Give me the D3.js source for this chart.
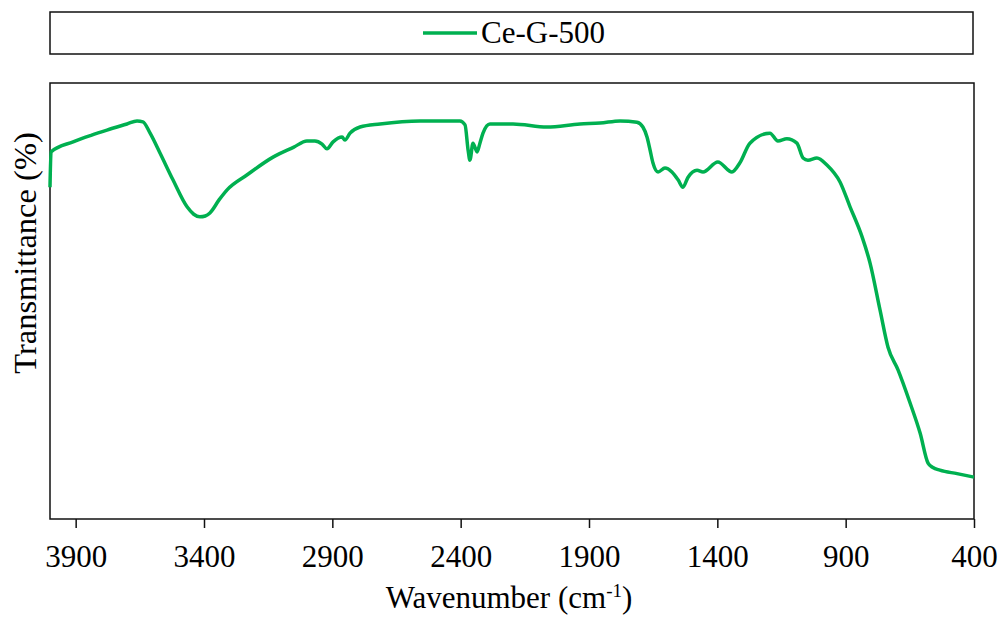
<!DOCTYPE html>
<html>
<head>
<meta charset="utf-8">
<script src="https://cdn.jsdelivr.net/npm/d3@7"></script>
<style>
  body { margin: 0; background: #fff; }
</style>
</head>
<body>
<div id="chart"></div>
<script>
// FTIR spectrum
const seriesName = "Ce-G-500";
const wavenumber = [4000, 3996, 3910, 3840, 3778, 3700, 3661, 3638, 3610, 3571, 3521, 3466, 3440, 3416, 3395, 3377,
  3340, 3310, 3233, 3131, 3050,
  2999, 2968, 2940, 2921, 2897, 2862, 2851, 2831, 2792, 2714, 2558, 2403, 2383, 2371, 2364, 2352, 2336, 2325,
  2313, 2286, 2196, 2064, 1935, 1857, 1779, 1713, 1690, 1674, 1662, 1651, 1631, 1604, 1577, 1553, 1534, 1514,
  1479, 1456, 1398, 1343, 1312, 1273, 1195, 1164, 1129, 1090, 1066, 1047, 1012, 973, 922, 883, 836, 805, 766,
  735, 696, 649, 610, 579, 560, 533, 466, 400];
const transmittance = [76.1, 84.2, 86.5, 88.0, 89.2, 90.6, 91.3, 91.1, 88.5, 83.9, 77.8, 71.6, 69.9, 69.3, 69.5, 70.2,
  73.3, 75.5, 78.9, 83.0, 85.3,
  86.7, 86.7, 86.0, 84.9, 86.5, 87.6, 86.9, 88.5, 89.9, 90.6, 91.3, 91.3, 90.4, 84.6, 82.3, 86.2, 84.2, 86.2,
  88.5, 90.6, 90.6, 89.9, 90.6, 90.8, 91.3, 91.0, 89.9, 87.6, 84.6, 81.7, 79.6, 80.5, 79.6, 77.8, 76.1, 78.4,
  80.0, 79.6, 81.9, 79.6, 81.7, 86.2, 88.5, 86.7, 87.2, 86.2, 82.8, 82.3, 82.8, 81.2, 77.3, 71.6, 64.7, 58.7, 47.9,
  39.4, 34.2, 26.6, 19.7, 12.8, 11.8, 11.2, 10.4, 9.6];
const xTicks = [3900, 3400, 2900, 2400, 1900, 1400, 900, 400];

const width = 998, height = 618;
const plot = { left: 50, right: 974, top: 83, bottom: 519 };
const green = "#00B050";
const serif = "'Liberation Serif', 'Times New Roman', Tinos, 'Noto Serif', 'DejaVu Serif', FreeSerif, 'Nimbus Roman', Times, serif";

const svg = d3.select("#chart").append("svg")
  .attr("width", width).attr("height", height)
  .attr("font-family", serif);

const x = d3.scaleLinear().domain([4000, 400]).range([plot.left, plot.right]);
const y = d3.scaleLinear().domain([0, 100]).range([plot.bottom, plot.top]);

// legend box
svg.append("rect")
  .attr("x", 50).attr("y", 12).attr("width", 923).attr("height", 42)
  .attr("fill", "none").attr("stroke", "#111").attr("stroke-width", 1.5);
svg.append("line")
  .attr("x1", 423).attr("x2", 477).attr("y1", 33).attr("y2", 33)
  .attr("stroke", green).attr("stroke-width", 3.5);
svg.append("text")
  .attr("x", 481).attr("y", 43)
  .attr("font-family", serif)
  .attr("font-size", 31)
  .text(seriesName);

// x axis
const xAxis = svg.append("g")
  .attr("transform", `translate(0,${plot.bottom})`)
  .call(d3.axisBottom(x).tickValues(xTicks).tickFormat(d3.format("d")).tickSize(9).tickSizeOuter(0));
xAxis.attr("font-family", serif).attr("font-size", 31);
xAxis.select(".domain").remove();
xAxis.selectAll(".tick line").attr("stroke", "#111").attr("stroke-width", 1.5);
xAxis.selectAll(".tick text")
  .attr("y", 48).attr("dy", 0)
  .attr("fill", "#000");

// plot frame
svg.append("rect")
  .attr("x", plot.left).attr("y", plot.top)
  .attr("width", plot.right - plot.left).attr("height", plot.bottom - plot.top)
  .attr("fill", "none").attr("stroke", "#111").attr("stroke-width", 1.5);

// spectrum
const points = wavenumber.map((w, i) => ({ w: w, t: transmittance[i] }));
const line = d3.line()
  .curve(d3.curveMonotoneX)
  .x(d => x(d.w))
  .y(d => y(d.t));
svg.append("path")
  .datum(points)
  .attr("d", line)
  .attr("fill", "none")
  .attr("stroke", green)
  .attr("stroke-width", 3.5)
  .attr("stroke-linejoin", "round");

// axis titles
const xTitle = svg.append("text")
  .attr("x", 509).attr("y", 608)
  .attr("text-anchor", "middle")
  .attr("font-family", serif)
  .attr("font-size", 31);
xTitle.append("tspan").text("Wavenumber (cm");
xTitle.append("tspan").attr("dy", -11).attr("font-size", 19).text("-1");
xTitle.append("tspan").attr("dy", 11).text(")");

svg.append("text")
  .attr("transform", "translate(36,253) rotate(-90)")
  .attr("text-anchor", "middle")
  .attr("font-family", serif)
  .attr("font-size", 32.5)
  .text("Transmittance (%)");
</script>
</body>
</html>
